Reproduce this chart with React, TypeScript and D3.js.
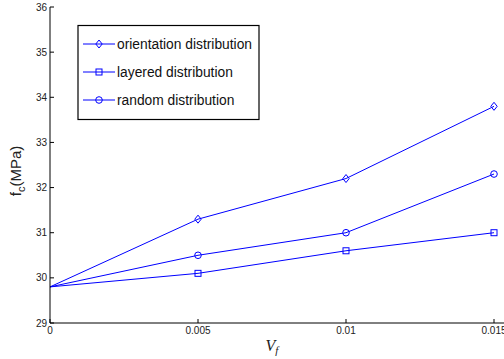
import React from 'react';
import * as d3 from 'd3';

const vf = [0, 0.005, 0.01, 0.015];
const orientation = [29.8, 31.3, 32.2, 33.8];
const layered = [29.8, 30.1, 30.6, 31.0];
const random = [29.8, 30.5, 31.0, 32.3];
const xTicks = [0, 0.005, 0.01, 0.015];
const xTickLabels = ['0', '0.005', '0.01', '0.015'];
const yTicks = [29, 30, 31, 32, 33, 34, 35, 36];

const series = [
  { name: 'orientation distribution', values: orientation, marker: 'diamond' },
  { name: 'layered distribution', values: layered, marker: 'square' },
  { name: 'random distribution', values: random, marker: 'circle' },
];

const width = 504;
const height = 359;
const margin = { top: 7, right: 10, bottom: 36, left: 50 };
const blue = '#0000ff';
const font = 'Liberation Sans, Arial, sans-serif';

const Marker = ({ type, x, y }: { type: string; x: number; y: number }) => {
  if (type === 'diamond') {
    return <path d={`M${x},${y - 4}L${x + 3.2},${y}L${x},${y + 4}L${x - 3.2},${y}Z`} fill="none" stroke={blue} />;
  }
  if (type === 'square') {
    return <rect x={x - 3} y={y - 3} width={6} height={6} fill="none" stroke={blue} />;
  }
  return <circle cx={x} cy={y} r={3.3} fill="none" stroke={blue} />;
};

const App = () => {
  const x = d3.scaleLinear().domain([0, 0.015]).range([margin.left, width - margin.right]);
  const y = d3.scaleLinear().domain([29, 36]).range([height - margin.bottom, margin.top]);
  const line = d3.line<number>()
    .x((_, i) => x(vf[i]))
    .y(d => y(d));
  const x0 = margin.left;
  const y0 = height - margin.bottom;

  return (
    <svg width={width} height={height} style={{ position: 'absolute', left: 0, top: 0 }} fontFamily={font}>
      <rect width={width} height={height} fill="#fff" />
      {series.map(s => (
        <g key={s.name}>
          <path d={line(s.values) || ''} fill="none" stroke={blue} strokeWidth={1} />
          {s.values.map((v, i) => i === 0 ? null : <Marker key={i} type={s.marker} x={x(vf[i])} y={y(v)} />)}
        </g>
      ))}
      <g stroke="#000" strokeWidth={1}>
        <line x1={x0} x2={x0} y1={margin.top} y2={y0} />
        <line x1={x0} x2={width} y1={y0} y2={y0} />
        {yTicks.map(t => <line key={t} x1={x0} x2={x0 + 4} y1={y(t)} y2={y(t)} />)}
        {xTicks.map(t => <line key={t} x1={x(t)} x2={x(t)} y1={y0} y2={y0 - 4} />)}
      </g>
      <g fontSize={10} fill="#222">
        {yTicks.map(t => (
          <text key={t} x={x0 - 3} y={y(t)} dy="0.35em" textAnchor="end">{t}</text>
        ))}
        {xTicks.map((t, i) => (
          <text key={t} x={x(t)} y={y0 + 11} textAnchor="middle">{xTickLabels[i]}</text>
        ))}
      </g>
      <text transform={`translate(21, 171) rotate(-90)`} textAnchor="middle" fontSize={15} fill="#222">
        f<tspan fontSize={11} dy="4">c</tspan><tspan dy="-4">(MPa)</tspan>
      </text>
      <text x={272} y={351} textAnchor="middle" fontFamily="Liberation Serif, Times New Roman, serif" fontStyle="italic" fontSize={16} fill="#222">
        V<tspan fontSize={11} dy="3">f</tspan>
      </text>
      <rect x={78} y={25.5} width={181} height={94} fill="#fff" stroke="#000" strokeWidth={1.2} />
      {series.map((s, i) => {
        const ly = 44 + i * 28;
        return (
          <g key={s.name}>
            <line x1={83} x2={115} y1={ly} y2={ly} stroke={blue} />
            <Marker type={s.marker} x={99} y={ly} />
            <text x={117} y={ly} dy="0.35em" fontSize={13.8} fill="#111">{s.name}</text>
          </g>
        );
      })}
    </svg>
  );
};

export default App;
